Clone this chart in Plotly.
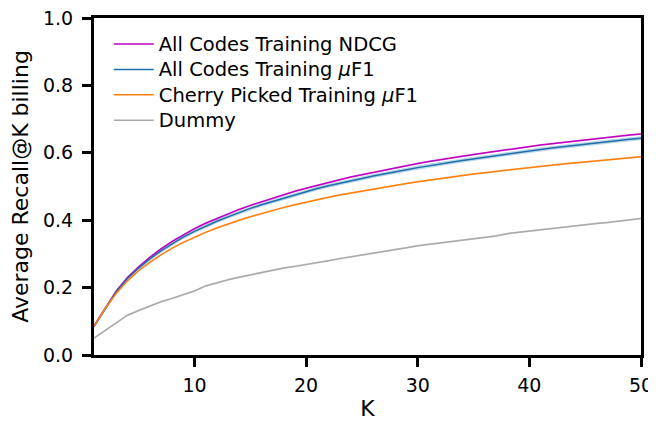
import plotly.graph_objects as go

K = list(range(1, 51))

ndcg = [0.086, 0.140, 0.190, 0.230, 0.262, 0.290, 0.315, 0.337, 0.357, 0.375,
        0.391, 0.405, 0.419, 0.432, 0.444, 0.455, 0.466, 0.476, 0.486, 0.495,
        0.504, 0.512, 0.520, 0.528, 0.535, 0.542, 0.549, 0.556, 0.562, 0.568,
        0.574, 0.580, 0.585, 0.590, 0.595, 0.600, 0.605, 0.610, 0.614, 0.619,
        0.623, 0.627, 0.631, 0.635, 0.639, 0.643, 0.646, 0.650, 0.653, 0.656]

uf1_all = [0.085, 0.138, 0.188, 0.227, 0.258, 0.285, 0.309, 0.330, 0.350, 0.367,
           0.383, 0.397, 0.410, 0.423, 0.435, 0.446, 0.456, 0.466, 0.476, 0.485,
           0.494, 0.502, 0.510, 0.517, 0.524, 0.531, 0.538, 0.544, 0.550, 0.556,
           0.562, 0.567, 0.572, 0.577, 0.582, 0.587, 0.592, 0.597, 0.601, 0.606,
           0.610, 0.614, 0.618, 0.622, 0.626, 0.630, 0.633, 0.637, 0.640, 0.643]

uf1_cherry = [0.085, 0.138, 0.183, 0.220, 0.250, 0.275, 0.297, 0.317, 0.334, 0.350,
              0.364, 0.377, 0.389, 0.400, 0.410, 0.420, 0.429, 0.438, 0.446, 0.454,
              0.461, 0.468, 0.475, 0.481, 0.487, 0.493, 0.499, 0.504, 0.509, 0.514,
              0.519, 0.524, 0.528, 0.533, 0.537, 0.541, 0.545, 0.549, 0.553, 0.556,
              0.560, 0.563, 0.567, 0.570, 0.573, 0.576, 0.579, 0.582, 0.585, 0.588]

dummy = [0.050, 0.072, 0.095, 0.118, 0.132, 0.145, 0.158, 0.168, 0.178, 0.190,
         0.205, 0.215, 0.223, 0.231, 0.238, 0.245, 0.252, 0.258, 0.263, 0.268,
         0.274, 0.280, 0.286, 0.291, 0.296, 0.302, 0.307, 0.313, 0.318, 0.324,
         0.328, 0.333, 0.337, 0.341, 0.345, 0.349, 0.353, 0.360, 0.364, 0.368,
         0.372, 0.376, 0.379, 0.383, 0.386, 0.390, 0.393, 0.397, 0.401, 0.405]

series = [
    ("All Codes Training NDCG", ndcg, "#bf00bf", "rgba(191,0,191,0.25)", 0.003),
    ("All Codes Training <i>μ</i>F1", uf1_all, "#1f6fa8", "rgba(31,119,180,0.3)", 0.006),
    ("Cherry Picked Training <i>μ</i>F1", uf1_cherry, "#ff7f0e", "rgba(255,127,14,0.25)", 0.003),
    ("Dummy", dummy, "#a9a9a9", "rgba(169,169,169,0.3)", 0.003),
]

fig = go.Figure()
for name, vals, col, fillcol, sd in series:
    up = [v + sd for v in vals]
    lo = [v - sd for v in vals]
    fig.add_trace(go.Scatter(x=K, y=up, mode="lines", line=dict(width=0),
                             showlegend=False, hoverinfo="skip"))
    fig.add_trace(go.Scatter(x=K, y=lo, mode="lines", line=dict(width=0),
                             fill="tonexty", fillcolor=fillcol,
                             showlegend=False, hoverinfo="skip"))
for name, vals, col, fillcol, sd in series:
    fig.add_trace(go.Scatter(x=K, y=vals, mode="lines",
                             name='<span style="font-size:19.5px">' + name + "</span>",
                             line=dict(color=col, width=1.5)))

font = "DejaVu Sans"
fig.update_layout(
    width=648, height=413,
    margin=dict(l=86, r=15, t=10, b=66, autoexpand=False),
    paper_bgcolor="white", plot_bgcolor="white",
    font=dict(family=font, size=19, color="black"),
    showlegend=True,
    legend=dict(x=0.027, y=0.975, xanchor="left", yanchor="top",
                traceorder="normal",
                bgcolor="rgba(0,0,0,0)", font=dict(size=17.2),
                tracegroupgap=0, itemwidth=40),
    xaxis=dict(range=[1, 50], tickvals=[10, 20, 30, 40, 50],
               automargin=False, ticklabeloverflow="allow",
               showline=True, linecolor="black", linewidth=3, mirror=True,
               ticks="outside", ticklen=9, tickwidth=3, tickcolor="black",
               tickfont=dict(size=19), ticklabelstandoff=2,
               showgrid=False, zeroline=False,
               title=dict(text="K", font=dict(size=22), standoff=13)),
    yaxis=dict(range=[0, 1.0], tickvals=[0, 0.2, 0.4, 0.6, 0.8, 1.0],
               tickformat=".1f", automargin=False, ticklabeloverflow="allow",
               showline=True, linecolor="black", linewidth=3, mirror=True,
               ticks="outside", ticklen=9, tickwidth=3, tickcolor="black",
               tickfont=dict(size=19), ticklabelstandoff=5,
               showgrid=False, zeroline=False,
               title=dict(text="Average Recall@K billing", font=dict(size=22), standoff=9)),
)

fig.write_html("out.html")
